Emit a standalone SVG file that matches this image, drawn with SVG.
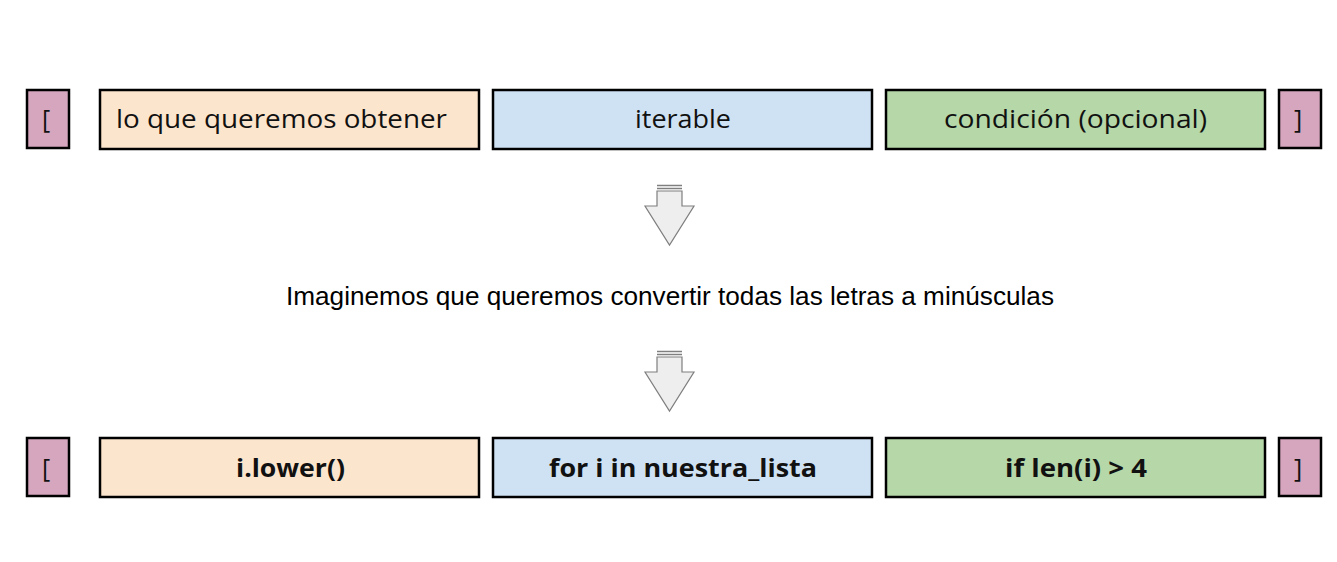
<svg xmlns="http://www.w3.org/2000/svg" width="1337" height="562" viewBox="0 0 1337 562">
<style>
.box{stroke:#000;stroke-width:2.5}
.br{fill:#d5a6bd}
.b1{fill:#fce5cd}
.b2{fill:#cfe2f3}
.b3{fill:#b6d7a8}
.t{font-family:"Open Sans","Liberation Sans",sans-serif;font-size:25px;fill:#111;text-anchor:middle}
.tb{font-family:"Open Sans","Liberation Sans",sans-serif;font-size:25px;font-weight:bold;fill:#111;text-anchor:middle}
.m{font-family:"Liberation Sans",Arial,sans-serif;font-size:25.5px;fill:#000;text-anchor:middle}
.arr{fill:#eeeeee;stroke:#7f7f7f;stroke-width:1.2}
.ln{stroke:#7f7f7f;stroke-width:1.5}
</style>
<rect width="1337" height="562" fill="#fff"/>
<defs>
<g id="arrow">
<polygon class="arr" points="657,191 682,191 682,206 694,206 669.5,245 645,206 657,206"/>
<line class="ln" x1="657" y1="185.5" x2="682" y2="185.5"/>
<line class="ln" x1="657" y1="188.5" x2="682" y2="188.5"/>
</g>
</defs>
<g id="top-lbracket"><rect class="box br" x="27" y="90" width="42" height="58"/><text class="t" x="46" y="128">[</text></g>
<g id="top-want"><rect class="box b1" x="100" y="90" width="379" height="59"/><text class="t" x="281.5" y="128" textLength="331" lengthAdjust="spacingAndGlyphs">lo que queremos obtener</text></g>
<g id="top-iterable"><rect class="box b2" x="493" y="90" width="379" height="59"/><text class="t" x="683" y="128" textLength="96" lengthAdjust="spacingAndGlyphs">iterable</text></g>
<g id="top-cond"><rect class="box b3" x="886" y="90" width="379" height="59"/><text class="t" x="1075.5" y="128" textLength="263" lengthAdjust="spacingAndGlyphs">condición (opcional)</text></g>
<g id="top-rbracket"><rect class="box br" x="1279" y="90" width="42" height="58"/><text class="t" x="1298" y="128">]</text></g>
<g id="connectors">
<use href="#arrow"/>
<use href="#arrow" transform="translate(0,166)"/>
</g>
<g id="middle-text"><text class="m" x="670" y="305" textLength="768" lengthAdjust="spacingAndGlyphs">Imaginemos que queremos convertir todas las letras a minúsculas</text></g>
<g id="bot-lbracket"><rect class="box br" x="27" y="438" width="42" height="58"/><text class="t" x="46" y="477">[</text></g>
<g id="bot-lower"><rect class="box b1" x="100" y="438" width="379" height="59"/><text class="tb" x="290.5" y="477" textLength="109" lengthAdjust="spacingAndGlyphs">i.lower()</text></g>
<g id="bot-for"><rect class="box b2" x="493" y="438" width="379" height="59"/><text class="tb" x="683" y="477" textLength="268" lengthAdjust="spacingAndGlyphs">for i in nuestra_lista</text></g>
<g id="bot-if"><rect class="box b3" x="886" y="438" width="379" height="59"/><text class="tb" x="1076" y="477" textLength="142" lengthAdjust="spacingAndGlyphs">if len(i) &gt; 4</text></g>
<g id="bot-rbracket"><rect class="box br" x="1279" y="438" width="42" height="58"/><text class="t" x="1298" y="477">]</text></g>
</svg>
